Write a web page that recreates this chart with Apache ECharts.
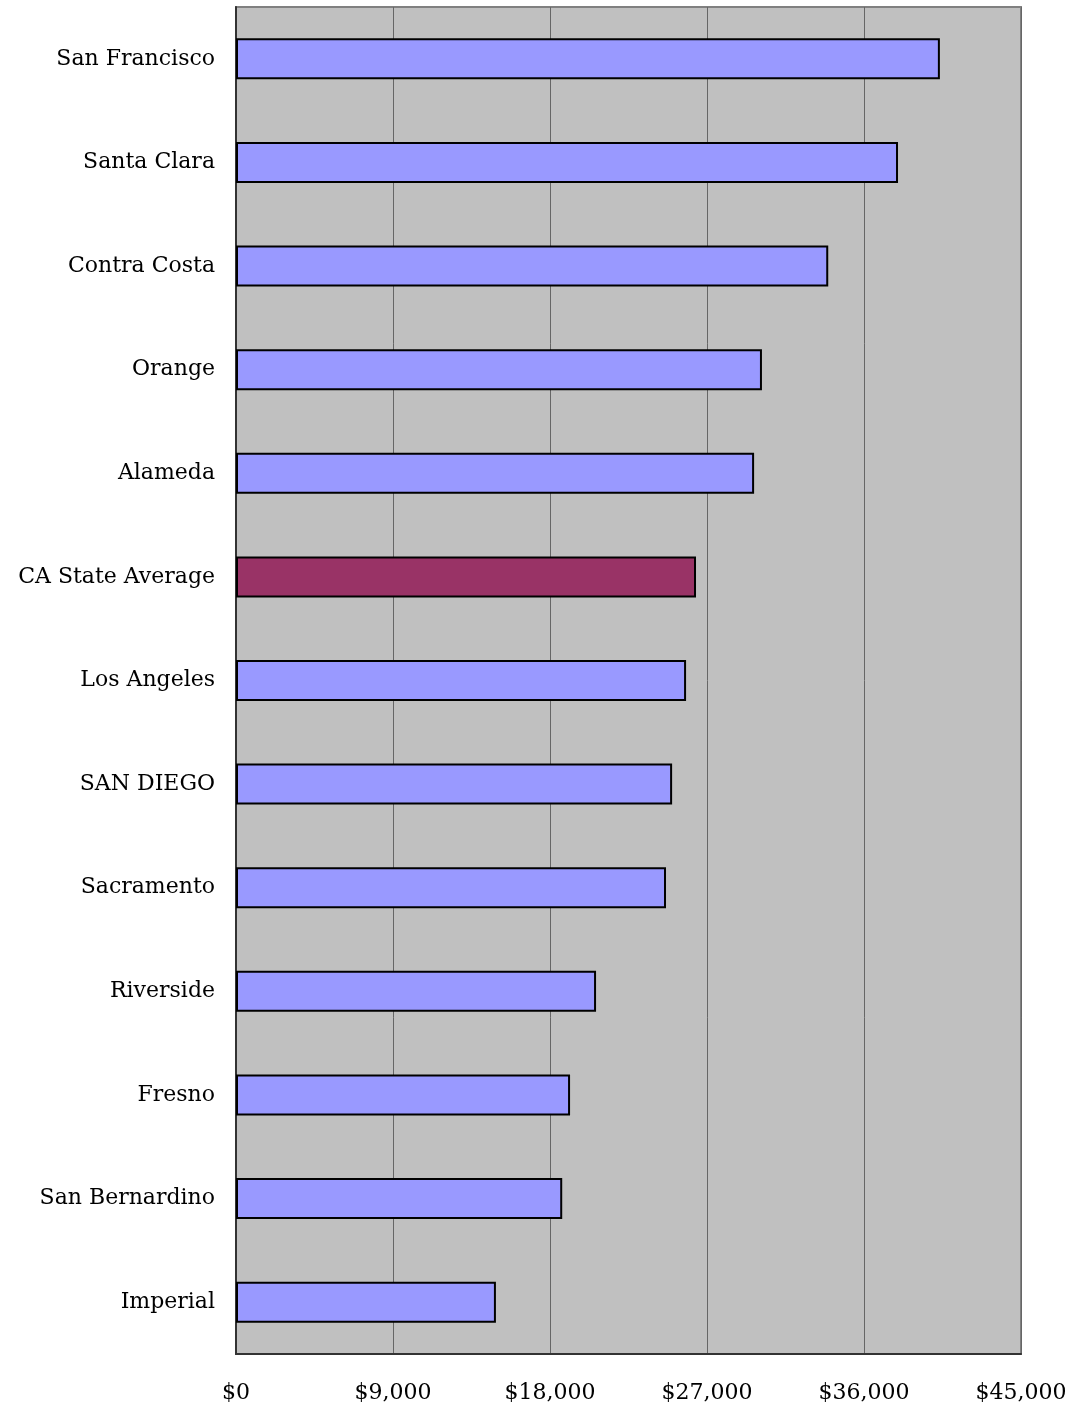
<!DOCTYPE html>
<html><head><meta charset="utf-8">
<script src="https://cdn.jsdelivr.net/npm/echarts@6/dist/echarts.min.js"></script>
<style>html,body{margin:0;padding:0;background:#fff}#c{width:1075px;height:1408px}</style>
</head><body><div id="c"></div>
<script>
const categories = ["San Francisco","Santa Clara","Contra Costa","Orange","Alameda","CA State Average","Los Angeles","SAN DIEGO","Sacramento","Riverside","Fresno","San Bernardino","Imperial"];
const values = [40350, 37950, 33950, 30150, 29700, 26370, 25800, 25000, 24650, 20640, 19150, 18700, 14900];
const highlight = "CA State Average";
const xTicks = [0, 9000, 18000, 27000, 36000, 45000];

const chart = echarts.init(document.getElementById('c'), null, {renderer:'canvas'});
const font = '"DejaVu Serif", "Liberation Serif", serif';
chart.setOption({
  animation:false,
  grid:{left:236, top:7, width:785, height:1347, backgroundColor:'#c0c0c0', show:true, borderColor:'#808080', borderWidth:2},
  xAxis:{type:'value', min:0, max:45000, interval:9000,
    axisLine:{show:true, lineStyle:{color:'#333', width:2}},
    axisTick:{show:false},
    splitLine:{show:true, lineStyle:{color:'#666', width:1}},
    axisLabel:{color:'#000', fontFamily:font, fontSize:22, margin:28,
      formatter:v=> xTicks.includes(v) ? '$'+v.toLocaleString('en-US') : ''}},
  yAxis:{type:'category', inverse:true, data:categories,
    axisLine:{show:true, lineStyle:{color:'#333', width:2}},
    axisTick:{show:false},
    axisLabel:{color:'#000', fontFamily:font, fontSize:22, margin:21}},
  series:[{type:'bar', barWidth:41,
    data:values.map((v,i)=>({value:v, itemStyle:{color: categories[i]===highlight ? '#993366' : '#9999ff'}})),
    itemStyle:{borderColor:'#000', borderWidth:2}}]
});
</script></body></html>
